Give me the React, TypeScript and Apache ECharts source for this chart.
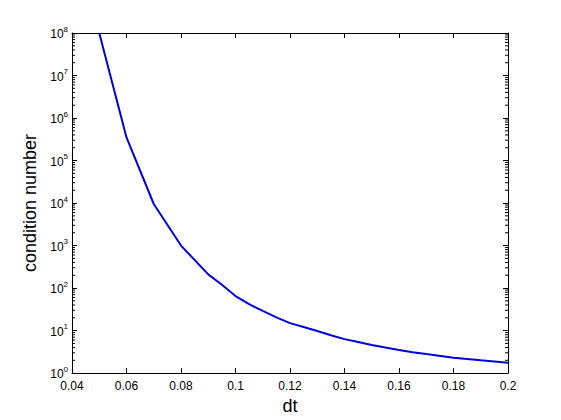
import React, { useEffect, useRef } from "react";
import * as echarts from "echarts";

const dtValues = [0.05, 0.06, 0.07, 0.08, 0.09, 0.095, 0.1, 0.105, 0.11, 0.115, 0.12, 0.125, 0.13, 0.135, 0.14, 0.145, 0.15, 0.155, 0.16, 0.165, 0.17, 0.18, 0.19, 0.2];
const conditionNumbers = [1e8, 3.5e5, 9.5e3, 1.0e3, 210, 120, 65, 42, 29, 20.5, 15, 12.1, 9.8, 7.8, 6.3, 5.4, 4.6, 4.0, 3.5, 3.1, 2.8, 2.3, 2.0, 1.75];
const xTickMin = 0.04;
const xTickMax = 0.2;
const xTickStep = 0.02;
const yMin = 1;
const yMax = 1e8;

const FONT = "'Liberation Sans', Arial, Helvetica, sans-serif";

export default function App() {
  const ref = useRef<HTMLDivElement>(null);
  useEffect(() => {
    if (!ref.current) return;
    const chart = echarts.init(ref.current, null, { renderer: "svg" });

    const minorVals: number[] = [];
    for (let d = 0; d < 8; d++) {
      for (let k = 2; k <= 9; k++) minorVals.push(k * Math.pow(10, d));
    }

    const tickStyle = { show: true, inside: true, length: 5, lineStyle: { color: "#000", width: 1 } };
    const axisLine = { show: true, onZero: false, lineStyle: { color: "#000", width: 1 } };

    chart.setOption({
      animation: false,
      backgroundColor: "#fff",
      grid: { left: 72, right: 53, top: 33, bottom: 46 },
      xAxis: [
        {
          type: "value",
          position: "bottom",
          min: xTickMin,
          max: xTickMax,
          interval: xTickStep,
          axisLine,
          axisTick: tickStyle,
          splitLine: { show: false },
          axisLabel: {
            color: "#000",
            fontFamily: FONT,
            fontSize: 12,
            margin: 7,
            formatter: (v: number) => String(Number(v.toFixed(2))),
          },
          name: "dt",
          nameLocation: "middle",
          nameGap: 23,
          nameTextStyle: { color: "#000", fontFamily: FONT, fontSize: 18 },
        },
        {
          type: "value",
          position: "top",
          min: xTickMin,
          max: xTickMax,
          interval: xTickStep,
          axisLine,
          axisTick: tickStyle,
          splitLine: { show: false },
          axisLabel: { show: false },
        },
      ],
      yAxis: [
        {
          type: "log",
          logBase: 10,
          position: "left",
          min: yMin,
          max: yMax,
          splitNumber: 8,
          axisLine,
          axisTick: tickStyle,
          splitLine: { show: false },
          minorTick: { show: false },
          axisLabel: {
            color: "#000",
            fontFamily: FONT,
            margin: 4,
            formatter: (v: number) => `{b|10}{s|${Math.round(Math.log10(v))}}`,
            rich: {
              b: { fontSize: 12, fontFamily: FONT, color: "#000", verticalAlign: "bottom", lineHeight: 14 },
              s: { fontSize: 8, fontFamily: FONT, color: "#000", verticalAlign: "bottom", lineHeight: 14, padding: [0, 0, 7, 0] },
            },
          },
          name: "condition number",
          nameLocation: "middle",
          nameGap: 27,
          nameTextStyle: { color: "#000", fontFamily: FONT, fontSize: 18 },
        },
        {
          type: "log",
          logBase: 10,
          position: "right",
          min: yMin,
          max: yMax,
          splitNumber: 8,
          axisLine,
          axisTick: tickStyle,
          splitLine: { show: false },
          axisLabel: { show: false },
        },
      ],
      series: [
        {
          type: "line",
          xAxisIndex: 0,
          yAxisIndex: 0,
          data: dtValues.map((x, i) => [x, conditionNumbers[i]]),
          showSymbol: false,
          symbol: "none",
          lineStyle: { color: "#0000dc", width: 2 },
          clip: true,
        },
        {
          type: "custom",
          xAxisIndex: 0,
          yAxisIndex: 0,
          clip: false,
          silent: true,
          data: minorVals.map((v) => [xTickMin, v]),
          renderItem: (params: any, api: any) => {
            const v = api.value(1);
            const l = api.coord([xTickMin, v]);
            const r = api.coord([xTickMax, v]);
            const st = { stroke: "#000", lineWidth: 1 };
            return {
              type: "group",
              children: [
                { type: "line", shape: { x1: l[0], y1: l[1], x2: l[0] + 3, y2: l[1] }, style: st },
                { type: "line", shape: { x1: r[0], y1: r[1], x2: r[0] - 3, y2: r[1] }, style: st },
              ],
            };
          },
        },
      ],
    });
    return () => chart.dispose();
  }, []);
  return <div ref={ref} style={{ position: "fixed", left: 0, top: 0, width: 561, height: 420 }} />;
}
